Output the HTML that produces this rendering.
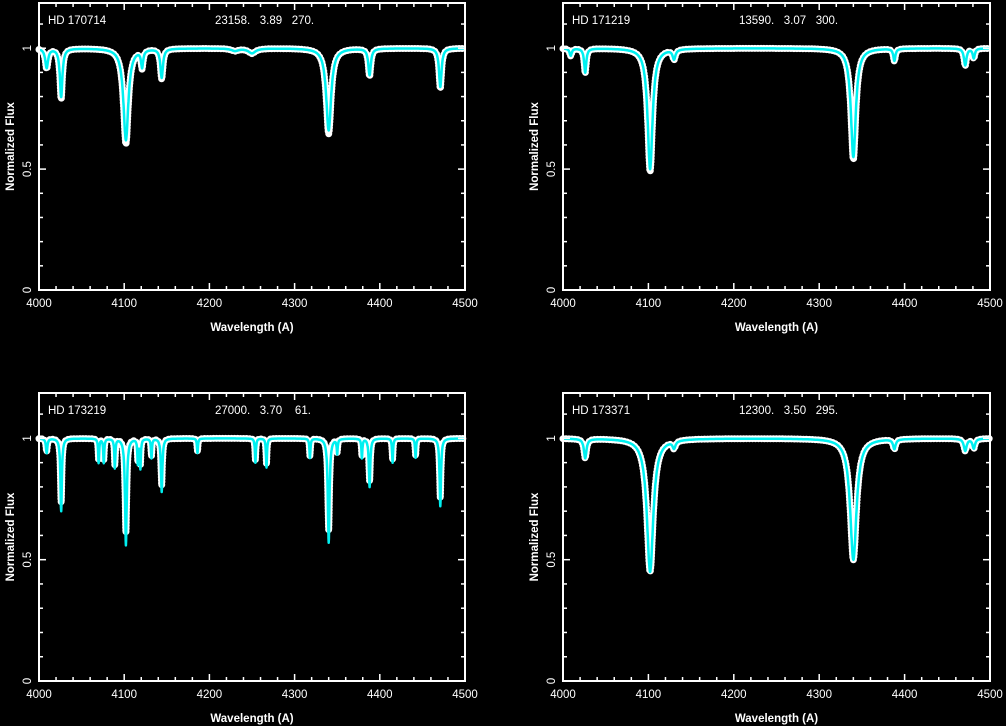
<!DOCTYPE html>
<html><head><meta charset="utf-8">
<style>
html,body{margin:0;padding:0;background:#000;}
svg{display:block;font-family:"Liberation Sans",sans-serif;}
text{fill:#fff;font-size:11.5px;}
</style></head>
<body>
<svg id="s" width="1006" height="726" viewBox="0 0 1006 726"></svg>
<script>
const xTicks=[4000,4100,4200,4300,4400,4500];
const yTicks=[0,0.5,1];
const starNames=["HD 170714","HD 171219","HD 173219","HD 173371"];
const starParams=["23158.   3.89   270.","13590.   3.07   300.","27000.   3.70    61.","12300.   3.50   295."];
const lineCenters=[
 [4009,4026,4102,4121,4144,4340,4388,4471,4230,4250],
 [4009,4026,4102,4130,4340,4388,4471,4481],
 [4009,4026,4070,4076,4089,4102,4116,4119,4132,4144,4186,4254,4267,4318,4340,4350,4379,4388,4415,4442,4471],
 [4026,4102,4130,4340,4388,4471,4481]
];
const lineDepths=[
 [0.08,0.2,0.38,0.07,0.12,0.34,0.11,0.16,0.01,0.02],
 [0.03,0.1,0.5,0.04,0.45,0.05,0.07,0.04],
 [0.06,0.3,0.1,0.1,0.12,0.44,0.1,0.12,0.08,0.22,0.06,0.1,0.12,0.08,0.43,0.06,0.08,0.2,0.1,0.08,0.28],
 [0.08,0.55,0.03,0.5,0.04,0.05,0.04]
];
const lineWidths=[
 [2,1.8,3.5,1.5,1.8,3.5,1.8,1.8,5,5],
 [1.5,1.5,3.5,2,3.5,1.5,1.8,1.5],
 [1,1,0.7,0.7,0.7,1.2,0.7,0.7,0.7,1,0.7,0.7,0.7,0.7,1.2,0.7,0.7,1,0.7,0.7,1],
 [1.8,4.5,2,4.5,1.8,2,1.8]
];
const obsExtra=[0.01,0.005,-0.03,0.0];
const panels=[{x0:39,x1:465,y0:3,y1:290},{x0:563,x1:990,y0:3,y1:290},{x0:39,x1:465,y0:393,y1:681},{x0:563,x1:990,y0:393,y1:681}];
const NS="http://www.w3.org/2000/svg";
const svg=document.getElementById('s');
function el(tag,attrs,parent){const e=document.createElementNS(NS,tag);for(const k in attrs)e.setAttribute(k,attrs[k]);(parent||svg).appendChild(e);return e;}
function model(p,w,scale){let f=1;for(let i=0;i<lineCenters[p].length;i++){const d=(w-lineCenters[p][i])/lineWidths[p][i];f-=lineDepths[p][i]*scale/(1+d*d);}return f;}
panels.forEach((P,p)=>{
 const ymax=1.187;
 const X=w=>P.x0+(w-4000)/500*(P.x1-P.x0);
 const Y=v=>P.y1-v/ymax*(P.y1-P.y0);
 const g=el('g',{});
 
 
 let obs=[],mod=[];
 for(let w=4000;w<=4500;w+=0.25){obs.push(X(w).toFixed(1)+','+Y(model(p,w,1+obsExtra[p]*4)).toFixed(1));mod.push(X(w).toFixed(1)+','+Y(model(p,w,1)).toFixed(1));}
 const o=el('polyline',{points:obs.join(' '),fill:'none',stroke:'#fff','stroke-width':7,'stroke-dasharray':'0 3','stroke-linecap':'round','stroke-linejoin':'round'},g);
 
 
 const m=el('polyline',{points:mod.join(' '),fill:'none',stroke:'#00f0f0','stroke-width':2.5,'stroke-linejoin':'round'},g);
 
 
 const r=el('rect',{x:P.x0,y:P.y0,width:P.x1-P.x0,height:P.y1-P.y0,fill:'none',stroke:'#fff','stroke-width':2},g);
 
 
 for(let w=4000;w<=4500;w+=20){const maj=w%100===0;const L=maj?7:4;
  el('line',{x1:X(w),x2:X(w),y1:P.y1,y2:P.y1-L,stroke:'#fff','stroke-width':1.5},g);
  el('line',{x1:X(w),x2:X(w),y1:P.y0,y2:P.y0+L,stroke:'#fff','stroke-width':1.5},g);}
 for(let v=0;v<=1.15;v+=0.1){const maj=Math.abs(v*2-Math.round(v*2))<1e-6;const L=maj?7:4;
  el('line',{x1:P.x0,x2:P.x0+L,y1:Y(v),y2:Y(v),stroke:'#fff','stroke-width':1.5},g);
  el('line',{x1:P.x1,x2:P.x1-L,y1:Y(v),y2:Y(v),stroke:'#fff','stroke-width':1.5},g);}
 xTicks.forEach(t=>{const tx=el('text',{x:X(t),y:P.y1+17,'text-anchor':'middle'},g);tx.textContent=t;
  
  });
 yTicks.forEach(t=>{const tx=el('text',{x:0,y:0,'text-anchor':'middle',transform:`translate(${P.x0-8},${Y(t)}) rotate(-90)`},g);tx.textContent=t;
  
  });
 const xl=el('text',{x:(P.x0+P.x1)/2,y:P.y1+41,'text-anchor':'middle','font-weight':'bold','font-size':'11px'},g);xl.textContent='Wavelength (A)';
 
 
 const yl=el('text',{x:0,y:0,'text-anchor':'middle','font-weight':'bold','font-size':'11px',transform:`translate(${P.x0-25},${(P.y0+P.y1)/2}) rotate(-90)`},g);yl.textContent='Normalized Flux';
 
 
 const n=el('text',{x:P.x0+9,y:P.y0+21,'font-size':'13px'},g);n.textContent=starNames[p];
 
 
 const pr=el('text',{x:P.x0+176,y:P.y0+21,'font-size':'13px'},g);pr.textContent=starParams[p];
 pr.setAttribute('style','white-space:pre');
 
 
});
</script>
</body></html>
